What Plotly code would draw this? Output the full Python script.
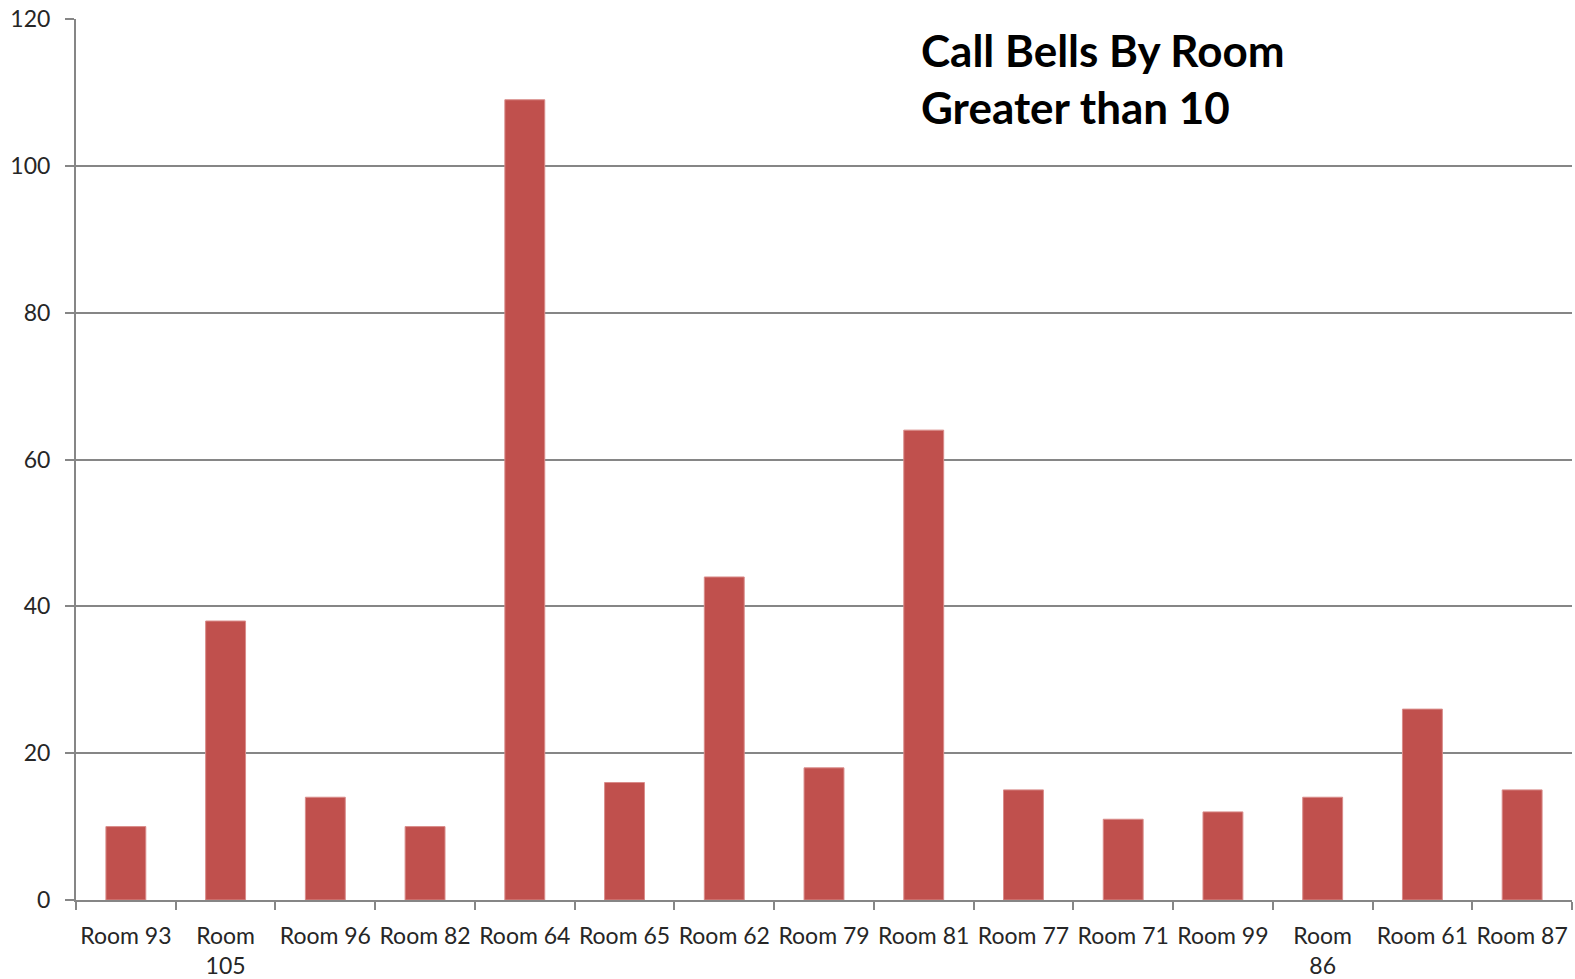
import plotly.graph_objects as go

# Call bell counts per room (rooms with more than 10 calls)
rooms = ["Room 93", "Room<br>105", "Room 96", "Room 82", "Room 64", "Room 65",
         "Room 62", "Room 79", "Room 81", "Room 77", "Room 71", "Room 99",
         "Room<br>86", "Room 61", "Room 87"]
calls = [10, 38, 14, 10, 109, 16, 44, 18, 64, 15, 11, 12, 14, 26, 15]

y_ticks = [0, 20, 40, 60, 80, 100, 120]

W, H = 1575, 979
L, R, T, B = 76, 3, 19, 79

fig = go.Figure(
    go.Bar(
        x=rooms,
        y=calls,
        marker=dict(color="#C0504D", line=dict(color="#D98C8A", width=1)),
        width=0.4,
    )
)

axis_grey = "#868686"
tick_font = dict(family="Lato, Open Sans, sans-serif", size=23, color="#262626")

fig.update_layout(
    width=W,
    height=H,
    margin=dict(l=L, r=R, t=T, b=B),
    paper_bgcolor="white",
    plot_bgcolor="white",
    showlegend=False,
    xaxis=dict(
        type="category",
        showline=True,
        linecolor=axis_grey,
        linewidth=2,
        ticks="outside",
        tickson="boundaries",
        ticklen=8,
        tickwidth=2,
        tickcolor=axis_grey,
        tickfont=tick_font,
        tickangle=0,
        ticklabelstandoff=14,
        automargin=False,
        showgrid=False,
        fixedrange=True,
    ),
    yaxis=dict(
        range=[0, 120],
        tickvals=y_ticks,
        showline=True,
        linecolor=axis_grey,
        linewidth=2,
        ticks="outside",
        ticklen=9,
        tickwidth=2,
        tickcolor=axis_grey,
        tickfont=tick_font,
        ticklabelstandoff=10,
        automargin=False,
        showgrid=True,
        gridcolor=axis_grey,
        gridwidth=2,
        zeroline=False,
        fixedrange=True,
    ),
    annotations=[
        dict(
            text="<b>Call Bells By Room<br>Greater than 10</b>",
            xref="paper",
            yref="paper",
            x=(919 - L) / (W - L - R),
            y=1 - (22 - T) / (H - T - B),
            xanchor="left",
            yanchor="top",
            align="left",
            showarrow=False,
            font=dict(family="Lato, Open Sans, sans-serif", size=44, color="black"),
        )
    ],
)

fig.write_html("out.html")
